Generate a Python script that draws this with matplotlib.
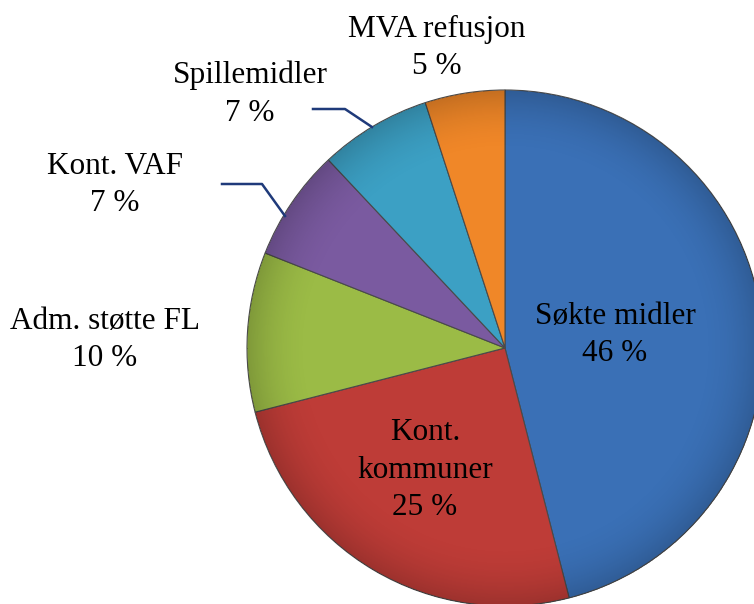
import numpy as np
import matplotlib.pyplot as plt

# shares (percent), clockwise from 12 o'clock
labels = ['Søkte midler', 'Kont.\nkommuner', 'Adm. støtte FL', 'Kont. VAF', 'Spillemidler', 'MVA refusjon']
shares = [46, 25, 10, 7, 7, 5]
colors = ['#3A70B6', '#BE3C37', '#9BBB46', '#7A5AA0', '#3CA0C4', '#F08728']

# label positions in pixels (x, y from top)
label_pos = [(615, 335), (425, 470), (105, 340), (115, 185), (250, 94), (437, 48)]

W, H = 754, 604
fig = plt.figure(figsize=(W / 100, H / 100), dpi=100)
ax = fig.add_axes([0, 0, 1, 1])

cx, cy, r = 505, H - 348, 258
wedges, _ = ax.pie(shares, colors=colors, startangle=90, counterclock=False,
                   center=(cx, cy), radius=r, frame=True,
                   wedgeprops=dict(edgecolor='#4a4a4a', linewidth=0.8))
ax.set_xlim(0, W)
ax.set_ylim(0, H)
ax.set_aspect('equal')
ax.axis('off')

# soft shading to mimic the bevelled look
yy, xx = np.mgrid[0:H, 0:W]
d = np.hypot(xx - cx, (H - yy) - cy) / r
shade = np.zeros((H, W, 4))
shade[..., 3] = np.clip((d - 0.75) / 0.25, 0, 1) ** 2 * 0.18
shade[d > 1, 3] = 0
ax.imshow(shade, extent=(0, W, 0, H), origin='upper', zorder=3)

for lab, s, (x, y) in zip(labels, shares, label_pos):
    ax.text(x, H - y, f'{lab}\n{s} %', ha='center', va='center',
            fontsize=22.5, family='Liberation Serif', linespacing=1.4, zorder=5)

# leader lines
ax.plot([222, 262, 285], [H - 184, H - 184, H - 216], color='#1F3A7A', lw=1.8, zorder=5)
ax.plot([313, 345, 372], [H - 109, H - 109, H - 127], color='#1F3A7A', lw=1.8, zorder=5)

fig.savefig('out.png', dpi=100)
